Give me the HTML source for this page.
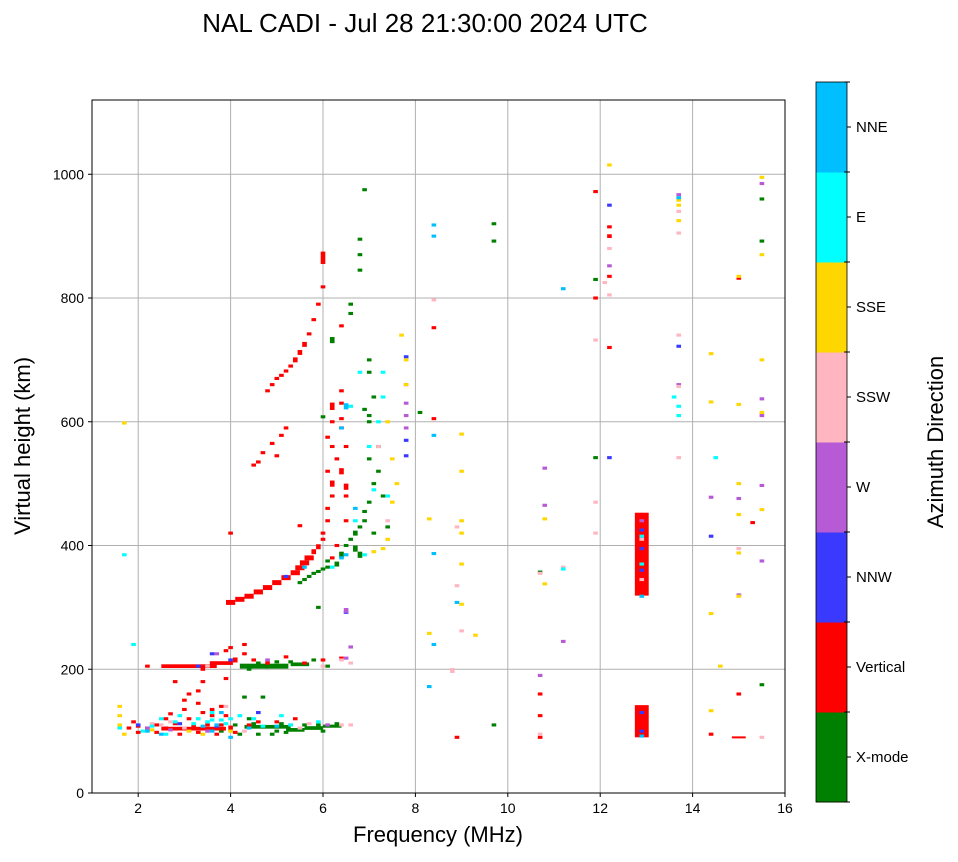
<!DOCTYPE html>
<html><head><meta charset="utf-8"><style>
body{margin:0;background:#fff;font-family:"Liberation Sans",sans-serif;}
svg text{font-family:"Liberation Sans",sans-serif;}
</style></head><body>
<svg id="chart" width="958" height="857" xmlns="http://www.w3.org/2000/svg">
<rect width="958" height="857" fill="#fff"/>
<text x="425" y="32" font-size="26" text-anchor="middle">NAL CADI - Jul 28 21:30:00 2024 UTC</text>
<g id="grid"></g><g id="marks"></g><g id="axes"></g><g id="cbar"></g>
<text x="438" y="842" font-size="22" text-anchor="middle">Frequency (MHz)</text>
<text transform="translate(30,446) rotate(-90)" font-size="22" text-anchor="middle">Virtual height (km)</text>
<text transform="translate(943,442) rotate(-90)" font-size="22" text-anchor="middle">Azimuth Direction</text>
</svg>
<script>
const xTicks=[2,4,6,8,10,12,14,16];
const yTicks=[0,200,400,600,800,1000];
const directions=["X-mode","Vertical","NNW","W","SSW","SSE","E","NNE"];
const dirColors=["#008000","#ff0000","#3a3aff","#b65ad6","#ffb6c1","#ffd700","#00ffff","#00bfff"];
// [freq MHz, height km, (span km), (width MHz)]
const xmode=[[5.5,340],[5.6,345],[5.7,350],[5.8,355],[5.9,358],[6.0,362],[6.1,365],[6.3,370,8],[6.4,385,10],[6.5,400],[6.6,410],[6.7,420,8],[6.8,430],[6.9,440],[7.0,470],[7.1,500],[7.0,540],[7.2,560],[7.0,600],[6.9,620],[7.1,640],[7.0,680],[7.0,700],[6.6,775],[6.6,790],[6.8,895],[6.8,870],[6.8,845],[6.9,975],[6.2,732,10],[7.2,520],[7.4,430],[7.1,420],[7.3,480],[5.9,300],[6.8,385,10],[6.7,395,10],[6.9,455],[7.0,610],[6.0,608],
[4.2,95],[4.6,95],[5.0,100],[5.4,102,6,0.4],[5.8,105,6,0.4],[6.2,108,5,0.4],[4.8,107,6,1.0],[3.8,100],[4.3,155],[4.7,155],[4.5,205,8,0.6],[5.0,205,8,0.5],[5.5,208,6,0.4],[6.1,205],[5.0,212],[9.7,920],[9.7,892],[9.7,110],[8.1,615],[10.7,357],[11.9,830],[11.9,542],[15.5,960],[15.5,892],[15.5,175],[6.1,375],
[4.5,112],[5.1,112],[5.6,110],[4.1,110],[4.9,95],[5.2,98],[4.4,120],[5.9,110],[4.6,210],[5.3,212],[4.4,200],[5.8,215],[6.3,112],[6.0,100]];
const vertical=[[4.0,308,8,0.2],[4.2,313,8,0.2],[4.4,318,8,0.2],[4.6,325,8,0.2],[4.8,332,8,0.2],[5.0,340,8,0.2],[5.2,348,8,0.2],[5.4,356,8,0.2],[5.5,364,8,0.2],[5.6,372,8,0.2],[5.7,380,8,0.2],[5.8,390,8],[5.9,398,8],[6.0,410],[4.0,420],[5.5,432],[4.5,530],[4.6,535],[4.7,550],[4.9,565],[5.1,578],[5.2,590],[5.0,545],[4.8,650],[4.9,660],[5.0,670],[5.1,675],[5.2,682],[5.3,690],[5.4,700,8],[5.5,712,8],[5.6,725,8],[5.7,742],[5.8,765],[5.9,790],[6.0,818],[6.0,865,20],
[6.0,420],[6.1,440],[6.1,460],[6.2,480],[6.2,500,10],[6.1,520],[6.3,540],[6.2,560],[6.4,590],[6.2,625,12],[6.4,650],[6.2,380],[6.3,400],[6.5,440],[6.5,480],[6.4,520,10],[6.2,600],[6.4,630],[6.4,755],[6.5,495,10],[6.5,560],[6.4,605],[6.1,575],
[1.8,105],[2.0,108],[2.2,105],[2.4,110],[2.6,105],[2.8,112],[3.0,105],[3.1,120],[3.2,108],[3.4,130],[3.6,125],[3.8,110],[3.0,150],[3.1,160],[3.3,165],[2.6,120],[3.5,110],[4.0,105,8],[4.4,110],[4.6,115],[5.0,115],[5.4,120],[3.2,104,6,1.4],[2.8,180],[3.4,180],[3.9,185],[3.4,200],
[2.8,205,6,0.6],[3.4,205,6,0.6],[3.8,210,6,0.5],[4.1,215,8],[4.3,225],[4.5,215],[4.8,210],[5.2,220],[5.6,210],[6.0,215],[6.4,218],[2.2,205],[3.9,230],[4.0,235],[4.3,240],
[8.4,752],[8.4,605],[12.2,720],[12.2,835],[12.2,900,6],[12.2,915],[11.9,972],[11.9,800],[15.0,832],[15.0,160],[15.0,90,3,0.3],[15.3,437],[10.7,160],[10.7,125],[10.7,90],[8.9,90],[14.4,95],[12.9,386,134,0.3],[12.9,116,52,0.3],
[2.0,98],[2.4,98],[2.9,95],[3.3,98],[3.7,95],[4.1,98],[3.0,135],[3.6,135],[3.8,140],[2.7,128],[3.3,145],[3.9,125],[1.9,115]];
const nnw=[[7.8,705],[12.2,950],[13.7,722],[14.4,415],[12.2,542],[3.3,205],[3.6,225],[15.0,320],[2.0,110],[6.5,292],[4.0,215],[4.6,130],[5.2,350],[12.9,425],[12.9,395],[12.9,360],[12.9,130],[12.9,100],[7.8,545],[7.8,570],[3.7,108],[2.9,112]];
const wdir=[[7.8,630],[7.8,610],[7.8,590],[7.8,660],[10.8,525],[10.8,465],[10.7,190],[12.2,852],[13.7,967],[13.7,660],[14.4,478],[15.0,476],[15.5,985],[15.5,637],[15.5,497],[15.5,375],[15.0,320],[6.6,236],[6.5,218],[3.7,225],[4.8,215],[5.3,110],[6.1,110],[2.2,105],[11.2,245],[15.5,610],[6.5,295,8],[12.9,440],[3.5,100],[2.7,102]];
const ssw=[[8.8,198,8],[8.9,335],[8.9,430],[9.0,262],[11.2,365],[11.9,732],[11.9,470],[11.9,420],[12.2,880],[12.2,805],[12.1,825],[13.7,940],[13.7,905],[13.7,740],[13.7,657],[13.7,542],[15.5,90],[15.0,395],[8.4,797],[6.6,110],[6.0,205],[6.4,215],[2.5,110],[3.0,105],[7.4,440],[7.2,560],[10.7,95],[10.7,355],[2.7,115],[3.5,205],[6.6,210],[12.9,410],[12.9,345],[2.3,112],[4.3,100],[5.7,112],[6.4,110],[3.9,140],[5.5,105]];
const sse=[[1.7,598],[1.6,140],[1.6,125],[1.6,110],[1.7,95],[8.3,443],[8.3,258],[9.0,580],[9.0,520],[9.0,440],[9.0,420],[9.0,370],[9.0,305],[9.3,255],[10.8,443],[10.8,338],[12.2,1015],[13.7,958],[13.7,950],[13.7,925],[14.4,710],[14.4,632],[14.4,290],[14.4,133],[14.6,205],[15.0,628],[15.0,500],[15.0,450],[15.0,388],[15.0,318],[15.0,835],[15.5,995],[15.5,870],[15.5,700],[15.5,615],[15.5,458],[7.7,740],[7.8,700],[7.8,660],[7.4,600],[7.3,395],[7.4,410],[7.1,390],[7.6,500],[7.5,540],[7.5,470],[3.4,95],[4.0,100],[3.1,100],[2.3,102]];
const east=[[1.7,385],[2.3,108],[2.5,120],[2.8,115],[3.3,120],[3.6,118],[3.9,112],[4.2,125],[4.5,120],[5.1,125],[5.3,110],[6.6,625],[6.8,680],[7.2,600],[7.3,640],[7.1,490],[6.7,440],[7.0,560],[7.4,480],[11.2,362],[13.7,610],[14.5,542],[13.7,625],[13.6,640],[6.9,385],[6.2,365],[1.6,105],[3.6,130],[1.9,240],[7.3,680],[12.9,415],[12.9,370],[3.5,115],[3.8,118],[4.0,120],[2.1,100],[2.6,95],[4.7,108],[5.9,115],[3.2,112],[2.9,125]];
const nne=[[6.5,625,10],[6.4,380],[6.5,385],[8.4,918],[8.4,900],[8.4,578],[8.4,387],[8.4,240],[8.3,172],[8.9,308],[11.2,815],[13.7,962],[6.7,460],[6.4,590],[12.9,318],[12.9,92],[3.6,100],[2.5,95],[4.0,90],[3.7,110],[5.6,365],[3.4,108],[4.4,105],[2.2,100],[5.0,108],[3.8,130]];
const series=[xmode,vertical,nnw,wdir,ssw,sse,east,nne];

const L=92,R=785,T=100,B=793,XMIN=1,XMAX=16,YMAX=1120;
const sx=f=>L+(f-XMIN)/(XMAX-XMIN)*(R-L);
const sy=h=>B-h/YMAX*(B-T);
const NS="http://www.w3.org/2000/svg";
function mk(tag,attrs,parent){const e=document.createElementNS(NS,tag);for(const k in attrs)e.setAttribute(k,attrs[k]);parent.appendChild(e);return e;}
const grid=document.getElementById('grid'),axes=document.getElementById('axes'),marks=document.getElementById('marks'),cbar=document.getElementById('cbar');
xTicks.forEach(t=>{
  const g=mk('line',{x1:sx(t),x2:sx(t),y1:T,y2:B,stroke:'#b0b0b0','stroke-width':1},grid);
  
  
  mk('line',{x1:sx(t),x2:sx(t),y1:B,y2:B+4,stroke:'#000'},axes);
  const tx=mk('text',{x:sx(t),y:B+20,'font-size':14,'text-anchor':'middle'},axes);tx.textContent=t;
  
  
});
yTicks.forEach(t=>{
  const g=mk('line',{x1:L,x2:R,y1:sy(t),y2:sy(t),stroke:'#b0b0b0','stroke-width':1},grid);
  
  
  mk('line',{x1:L-4,x2:L,y1:sy(t),y2:sy(t),stroke:'#000'},axes);
  const tx=mk('text',{x:L-8,y:sy(t)+5,'font-size':14,'text-anchor':'end'},axes);tx.textContent=t;
  
  
});
const frame=mk('rect',{x:L,y:T,width:R-L,height:B-T,fill:'none',stroke:'#000','stroke-width':1},axes);


series.forEach((s,ci)=>{
  s.forEach(p=>{
    const span=p[2]||5,w=p[3]||0.1;
    const r=mk('rect',{x:sx(p[0]-w/2),y:sy(p[1]+span/2),width:sx(p[0]+w/2)-sx(p[0]-w/2),height:Math.max(2,sy(p[1]-span/2)-sy(p[1]+span/2)),fill:dirColors[ci]},marks);
    
    
  });
});
const CX=816,CW=31,CT=82,CB=802,seg=(CB-CT)/directions.length;
directions.forEach((d,i)=>{
  const y0=CB-(i+1)*seg;
  const r=mk('rect',{x:CX,y:y0,width:CW,height:seg+0.5,fill:dirColors[i]},cbar);
  
  
  mk('line',{x1:CX+CW,x2:CX+CW+4,y1:y0+seg/2,y2:y0+seg/2,stroke:'#000'},cbar);
  const t=mk('text',{x:CX+CW+9,y:y0+seg/2+5,'font-size':15},cbar);t.textContent=d;
  
  
});
for(let i=0;i<=directions.length;i++){const y=CB-i*seg;mk('line',{x1:CX+CW-3,x2:CX+CW+3,y1:y,y2:y,stroke:'#000'},cbar);}
mk('rect',{x:CX,y:CT,width:CW,height:CB-CT,fill:'none',stroke:'#000','stroke-width':0.8},cbar);
</script>
</body></html>
